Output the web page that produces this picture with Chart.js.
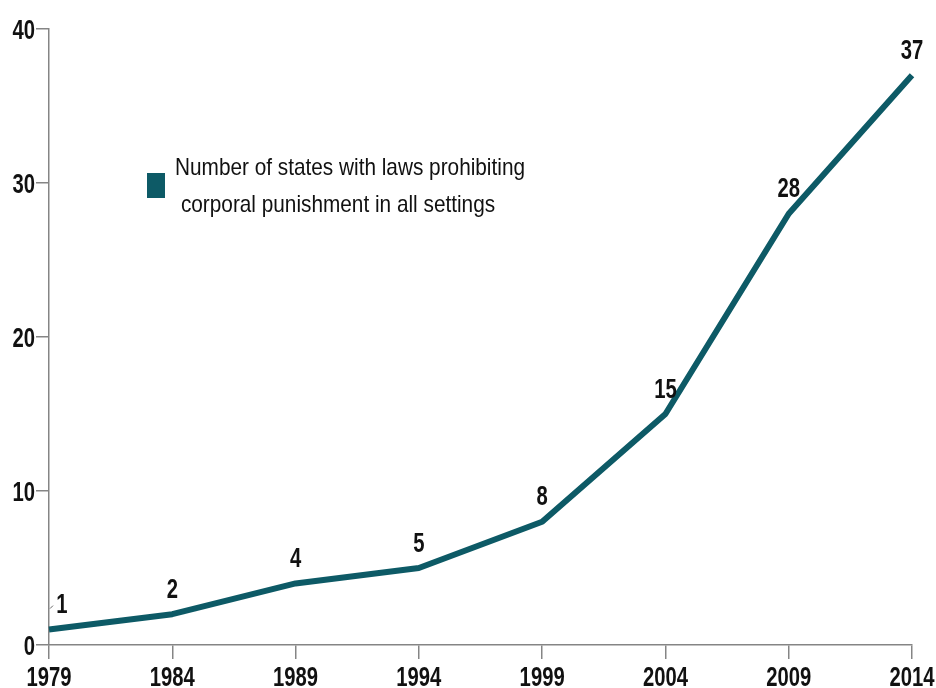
<!DOCTYPE html>
<html>
<head>
<meta charset="utf-8">
<script src="https://cdn.jsdelivr.net/npm/chart.js@4.4.1/dist/chart.umd.min.js"></script>
<style>
  html, body { margin: 0; padding: 0; background: #ffffff; }
  #wrap { width: 936px; height: 688px; position: relative; }
</style>
</head>
<body>
<div id="wrap"><canvas id="chart" width="936" height="688"></canvas></div>
<script>
// Years shown along the bottom axis
const years = ['1979', '1984', '1989', '1994', '1999', '2004', '2009', '2014'];
// Number of states with a full ban on corporal punishment
const statesWithBan = [1, 2, 4, 5, 8, 15, 28, 37];
// Value axis ticks
const yTicks = [0, 10, 20, 30, 40];
// Legend text, two lines
const legendLines = ['Number of states with laws prohibiting', 'corporal punishment in all settings'];

const TEAL = '#0d5a66';
const AXIS = '#858585';
const INK = '#111111';
const BOLD = 'bold 27px "Liberation Sans", Arial, sans-serif';
const NARROW = 0.75; // horizontal squeeze for a condensed look

// Draw condensed text: x is the anchor point, align as in canvas
function narrowText(ctx, text, x, y, align, font, squeeze) {
  ctx.save();
  ctx.font = font;
  ctx.textAlign = align;
  ctx.translate(x, y);
  ctx.scale(squeeze, 1);
  ctx.fillText(text, 0, 0);
  ctx.restore();
}

// Tick labels placed from the chart's own scales
const axisLabels = {
  id: 'axisLabels',
  afterDraw(chart) {
    const { ctx } = chart;
    const xs = chart.scales.x, ys = chart.scales.y;
    ctx.save();
    ctx.fillStyle = INK;
    ctx.textBaseline = 'alphabetic';
    xs.ticks.forEach((t, i) => {
      narrowText(ctx, years[i], xs.getPixelForTick(i), 686, 'center', BOLD, NARROW);
    });
    ys.ticks.forEach(t => {
      narrowText(ctx, String(t.value), ys.left + 35, ys.getPixelForValue(t.value) + 9.5, 'right', BOLD, NARROW);
    });
    ctx.restore();
  }
};

// Value labels above each point
const valueLabels = {
  id: 'valueLabels',
  afterDatasetsDraw(chart) {
    const { ctx } = chart;
    const meta = chart.getDatasetMeta(0);
    ctx.save();
    ctx.fillStyle = INK;
    ctx.textBaseline = 'alphabetic';
    meta.data.forEach((pt, i) => {
      let x = pt.x;
      if (i === 0) {
        x += 13;
        // short leader from the axis to the first label
        ctx.strokeStyle = '#666666';
        ctx.lineWidth = 1;
        ctx.beginPath();
        ctx.moveTo(pt.x + 1, pt.y - 21);
        ctx.lineTo(pt.x + 4, pt.y - 24);
        ctx.stroke();
      }
      narrowText(ctx, String(statesWithBan[i]), x, pt.y - 16.5, 'center', BOLD, NARROW);
    });
    ctx.restore();
  }
};

// Legend box with wrapped description
const boxLegend = {
  id: 'boxLegend',
  afterDraw(chart) {
    const { ctx } = chart;
    ctx.save();
    ctx.fillStyle = TEAL;
    ctx.fillRect(147, 173, 18, 25);
    ctx.fillStyle = INK;
    ctx.textBaseline = 'alphabetic';
    const f = '24px "Liberation Sans", Arial, sans-serif';
    ctx.font = f;
    const squeeze = 350 / ctx.measureText(legendLines[0]).width;
    narrowText(ctx, legendLines[0], 350, 175, 'center', f, squeeze);
    narrowText(ctx, legendLines[1], 338, 212, 'center', f, squeeze);
    ctx.restore();
  }
};

new Chart(document.getElementById('chart'), {
  type: 'line',
  data: {
    labels: years,
    datasets: [{
      label: legendLines.join(' '),
      data: statesWithBan,
      borderColor: TEAL,
      backgroundColor: TEAL,
      borderWidth: 6,
      borderCapStyle: 'butt',
      borderJoinStyle: 'round',
      pointRadius: 0,
      tension: 0,
      fill: false
    }]
  },
  options: {
    responsive: false,
    animation: false,
    layout: { padding: { top: 29, right: 24, left: 0, bottom: 0 } },
    plugins: {
      legend: { display: false },
      tooltip: { enabled: false },
      title: { display: false }
    },
    scales: {
      x: {
        type: 'category',
        offset: false,
        grid: { display: true, drawOnChartArea: false, drawTicks: true, tickLength: 14, color: AXIS, lineWidth: 1.5 },
        border: { display: true, color: AXIS, width: 1.5 },
        ticks: { display: false, autoSkip: false },
        afterFit(scale) { scale.height = 43; }
      },
      y: {
        min: 0,
        max: 40,
        afterBuildTicks(scale) { scale.ticks = yTicks.map(v => ({ value: v })); },
        grid: { display: true, drawOnChartArea: false, drawTicks: true, tickLength: 13, color: AXIS, lineWidth: 1.5 },
        border: { display: true, color: AXIS, width: 1.5 },
        ticks: { display: false },
        afterFit(scale) { scale.width = 49; }
      }
    }
  },
  plugins: [valueLabels, boxLegend, axisLabels]
});
</script>
</body>
</html>
